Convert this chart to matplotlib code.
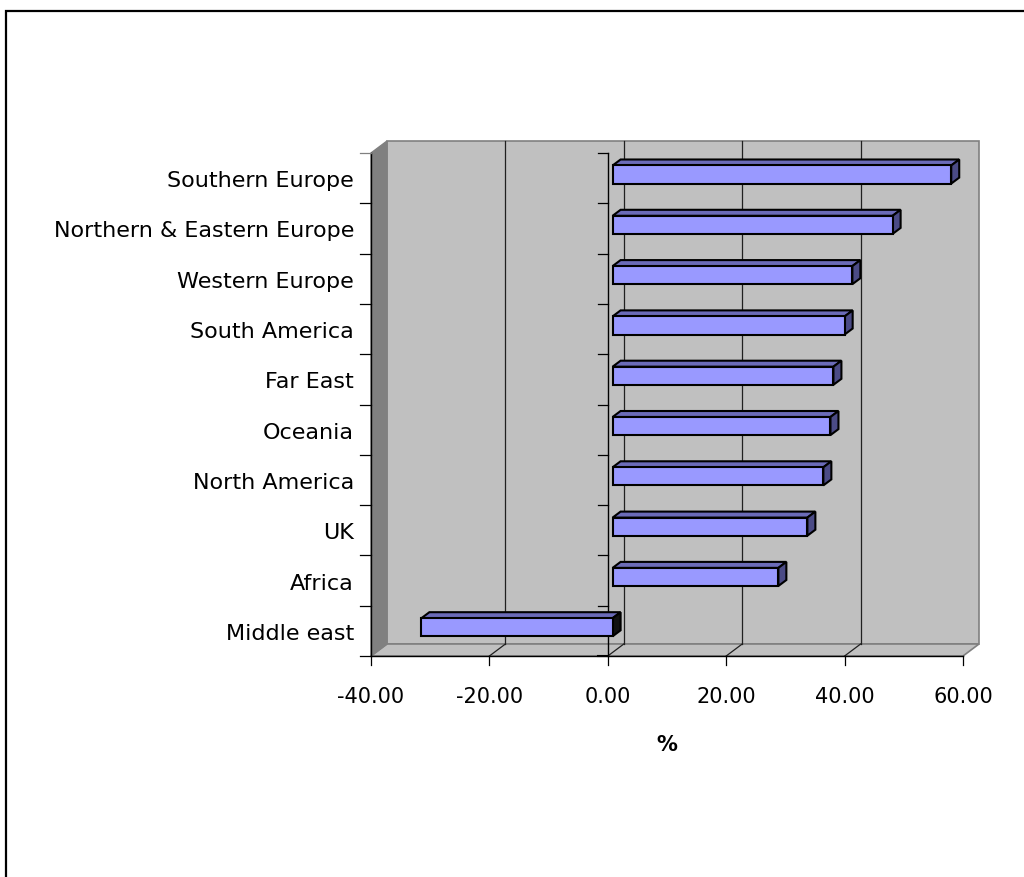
import numpy as np
import matplotlib
matplotlib.use('Agg')
import matplotlib.pyplot as plt
from matplotlib.patches import Polygon, Rectangle
from matplotlib.lines import Line2D
from matplotlib.transforms import IdentityTransform

# данные (сверху вниз)
regions = ['Southern Europe', 'Northern & Eastern Europe', 'Western Europe',
           'South America', 'Far East', 'Oceania', 'North America', 'UK',
           'Africa', 'Middle east']
values = [57.2, 47.3, 40.5, 39.2, 37.3, 36.8, 35.6, 32.9, 28.0, -32.3]
x_ticks = [-40, -20, 0, 20, 40, 60]
x_labels = ['-40.00', '-20.00', '0.00', '20.00', '40.00', '60.00']

# снизу вверх для оси
regions = regions[::-1]
values = values[::-1]

DPI = 100
fig = plt.figure(figsize=(10.24, 8.77), dpi=DPI)
ax = fig.add_axes([371 / 1024, 221 / 877, 592 / 1024, 503 / 877])
ax.set_xlim(-40, 60)
ax.set_ylim(-0.5, len(regions) - 0.5)
ax.axis('off')

ident = IdentityTransform()
depth = np.array([16.0, 12.0])  # сдвиг задней стенки в пикселях
y0, y1 = -0.5, len(regions) - 0.5


def pt(x, y, d=0.0):
    # точка передней плоскости + смещение в глубину
    return ax.transData.transform((x, y)) + d * depth


def poly(pts, fc, ec, lw=1.0, z=1):
    p = Polygon(np.array(pts), closed=True, facecolor=fc, edgecolor=ec,
                linewidth=lw, transform=ident, clip_on=False, zorder=z)
    fig.add_artist(p)


def line(a, b, color='black', lw=1.0, z=2):
    fig.add_artist(Line2D([a[0], b[0]], [a[1], b[1]], color=color, lw=lw,
                          transform=ident, clip_on=False, zorder=z))


# рамка
fig.add_artist(Rectangle((6, -30), 1100, 30 + 866, transform=ident,
                         fill=False, edgecolor='black', lw=1.6))

# стенки и пол
poly([pt(-40, y0, 1), pt(60, y0, 1), pt(60, y1, 1), pt(-40, y1, 1)],
     '#C0C0C0', '#808080', 1.2, 0.5)
poly([pt(-40, y0, 0), pt(60, y0, 0), pt(60, y0, 1), pt(-40, y0, 1)],
     '#C0C0C0', '#808080', 1.2, 0.6)
poly([pt(-40, y0, 0), pt(-40, y1, 0), pt(-40, y1, 1), pt(-40, y0, 1)],
     '#808080', '#808080', 1.0, 0.7)

# сетка на задней стенке и на полу
for xv in x_ticks[1:-1]:
    line(pt(xv, y0, 1), pt(xv, y1, 1), '#202020', 0.9, 1)
    line(pt(xv, y0, 0), pt(xv, y0, 1), '#202020', 0.9, 1)

# ось X
line(pt(-40, y0), pt(60, y0), 'black', 1.0, 3)
for xv, lab in zip(x_ticks, x_labels):
    a = pt(xv, y0)
    line(a, a - np.array([0, 9]), 'black', 0.9, 3)
    ax.annotate(lab, (xv, y0), xytext=(0, -41), textcoords='offset pixels',
                ha='center', va='center', fontsize=15, annotation_clip=False)

ax.annotate('%', (10, y0), xytext=(0, -89), textcoords='offset pixels',
            ha='center', va='center', fontsize=15, fontweight='bold',
            annotation_clip=False)

# ось категорий (левая) и линия нуля
line(pt(-40, y0), pt(-40, y1), 'black', 1.0, 3)
line(pt(0, y0), pt(0, y1), 'black', 1.0, 1.5)
for k in range(len(regions) + 1):
    yv = k - 0.5
    a = pt(-40, yv)
    line(a, a - np.array([11, 0]), '#808080' if k == len(regions) else 'black', 0.9, 3)
    b = pt(0, yv)
    line(b, b - np.array([10, 0]), 'black', 1.5 if k == 0 else 0.9, 3)

for i, name in enumerate(regions):
    ax.annotate(name, (-40, i), xytext=(-17, -3), textcoords='offset pixels',
                ha='right', va='center', fontsize=16, annotation_clip=False)

# столбцы
f0, f1 = 0.3, 0.8
h = 0.18
for i, v in enumerate(values):
    lo, hi = min(0, v), max(0, v)
    side_c = '#4B4B86' if v > 0 else '#111111'
    poly([pt(lo, i + h, f0), pt(hi, i + h, f0), pt(hi, i + h, f1), pt(lo, i + h, f1)],
         '#6B6BB8', 'black', 1.5, 4)
    poly([pt(hi, i - h, f0), pt(hi, i - h, f1), pt(hi, i + h, f1), pt(hi, i + h, f0)],
         side_c, 'black', 1.5, 4)
    poly([pt(lo, i - h, f0), pt(hi, i - h, f0), pt(hi, i + h, f0), pt(lo, i + h, f0)],
         '#9999FF', 'black', 1.5, 4)

fig.savefig('out.png', dpi=DPI, facecolor='white')
